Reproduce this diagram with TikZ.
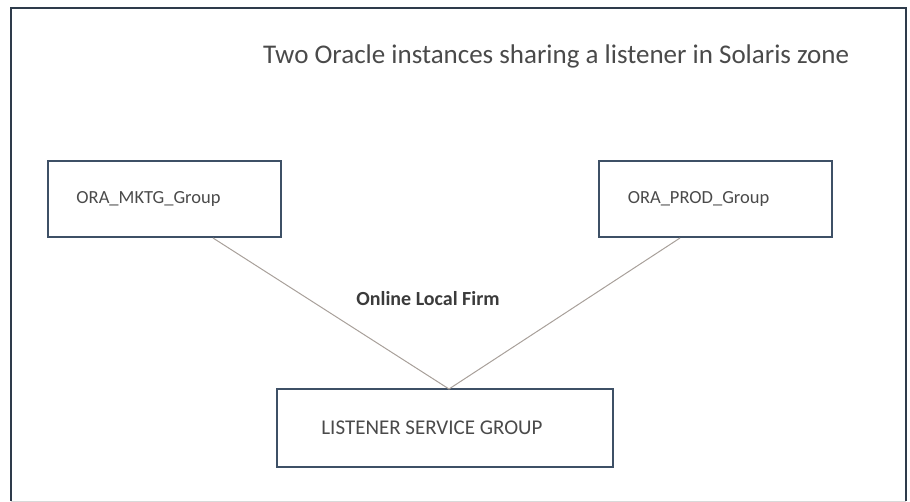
\documentclass[tikz,border=0pt]{standalone}
\usepackage{fontspec}
\setmainfont{Carlito}
\definecolor{frameC}{HTML}{2E3B4B}
\definecolor{boxC}{HTML}{3E5066}
\definecolor{lineC}{HTML}{A8A09A}
\definecolor{txtC}{HTML}{4A4A4A}
\begin{document}
\begin{tikzpicture}[x=1pt,y=-1pt,
  grp/.style={draw=boxC,line width=2pt,minimum width=#1,minimum height=76pt,inner sep=0pt},
  lbl/.style={text=txtC,font=\fontsize{#1}{24}\selectfont,inner sep=0pt},
  link/.style={draw=lineC,line width=1pt}]
\useasboundingbox (0,0) rectangle (910,502);
% frame
\draw[draw=frameC,line width=2pt] (11,501) -- (11,8) -- (906,8) -- (906,501);
\draw[draw=black!15,line width=1pt] (11,501) -- (906,501);
\node[text=txtC,font=\fontsize{27}{30}\selectfont,anchor=base west,inner sep=0pt] (title) at (263,64) {Two Oracle instances sharing a listener in Solaris zone};
\node[grp=233pt] (mktg) at (164.5,199) {};
\node[grp=233pt] (prod) at (715.5,199) {};
\node[grp=336pt,minimum height=78pt] (lsg) at (445,428) {};
\node[lbl=18.5] (mktgtxt) at ([xshift=-16pt]mktg.center) {ORA\_MKTG\_Group};
\node[lbl=18.5] (prodtxt) at ([xshift=-17pt]prod.center) {ORA\_PROD\_Group};
\node[lbl=21] (lsgtxt) at ([xshift=-13pt]lsg.center) {LISTENER SERVICE GROUP};
\coordinate (v) at (449,389);
\draw[link] (mktg.south -| 213,0) -- (v) -- (prod.south -| 680,0);
\node[text=txtC!80!black,font=\bfseries\fontsize{20}{22}\selectfont,inner sep=0pt] (olf) at (428,299) {Online Local Firm};
\end{tikzpicture}
\end{document}
